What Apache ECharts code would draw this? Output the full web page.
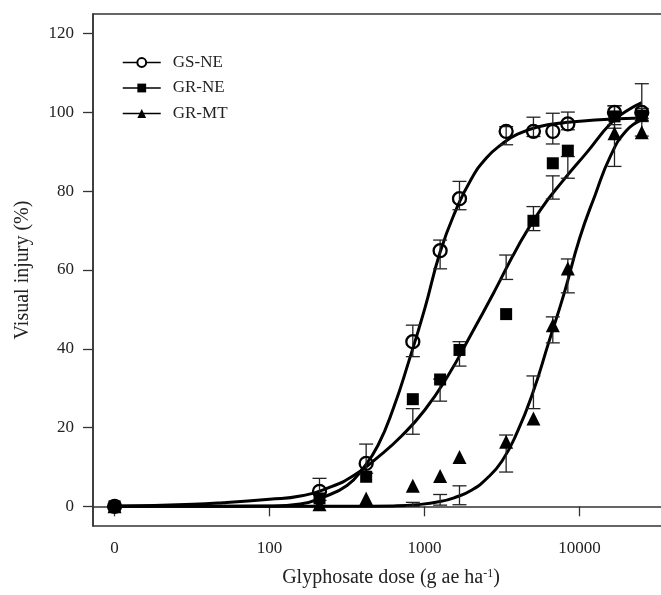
<!DOCTYPE html>
<html>
<head>
<meta charset="utf-8">
<script src="https://cdn.jsdelivr.net/npm/echarts@6/dist/echarts.min.js"></script>
<style>
html, body { margin: 0; padding: 0; background: #fff; }
#main { width: 661px; height: 595px; }
</style>
</head>
<body>
<div id="main"></div>
<script>
// doses (g ae ha-1); dose 0 is drawn at the "10" position of the log axis
var doses = [0, 210, 420, 840, 1260, 1680, 3360, 5040, 6720, 8400, 16800, 25200];
var gsNE = [0, 3.8, 10.9, 41.8, 64.9, 78.1, 95.2, 95.2, 95.2, 97.1, 100, 100];
var grNE = [0, 2, 7.5, 27.2, 32.2, 39.7, 48.8, 72.5, 87.1, 90.3, 99, 99.2];
var grMT = [0, 0.5, 2, 5.2, 7.7, 12.5, 16.4, 22.3, 46, 60.4, 94.7, 95];

// error bars [low, high], null where none is visible
var gsNEBar = [null, [1.5, 7.1], [8.4, 15.8], [38, 46], [60.3, 67.6], [75.3, 82.5], [91.8, 96.4], [93.9, 98.8], [92, 99.8], [95.6, 100.1], [98.5, 101.7], [98.5, 101]];
var grNEBar = [null, null, null, [18.3, 24.8], [26.7, 32.3], [35.6, 41.8], [57.6, 63.8], [70, 76.1], [78, 83.9], [83.3, 88.8], [96, 101.7], [97.7, 107.3]];
var grMTBar = [null, null, null, [0, 1], [0.3, 3], [0.4, 5.2], [8.7, 18.1], [24.8, 33.1], [41.5, 48.1], [54.2, 62.8], [86.3, 96.9], [94, 98]];

// fitted curves
var gsCurveDose = [10, 32, 100, 158, 224, 316, 398, 501, 631, 794, 1000, 1259, 1585, 1995, 2512, 3162, 3981, 5623, 7943, 12590, 25200];
var gsCurveVal = [0, 0, 0.1, 0.6, 2.4, 5.3, 9.5, 15.5, 25, 37, 50, 64.5, 75, 83, 88.5, 92, 94.5, 96.5, 97.4, 98.1, 98.6];
var grCurveDose = [10, 32, 50, 100, 158, 251, 355, 501, 708, 1000, 1413, 1995, 2818, 3981, 5623, 7943, 11220, 15850, 19950, 25200];
var grCurveVal = [0, 0.5, 0.9, 1.8, 2.6, 5, 8, 12.5, 17.8, 24.4, 33.1, 43.6, 54.5, 65.8, 75.4, 83, 90, 97.2, 100.3, 102.5];
var mtCurveDose = [10, 316, 631, 891, 1259, 1585, 1995, 2512, 3162, 3981, 5012, 6310, 7943, 10000, 12590, 15850, 19950, 25200];
var mtCurveVal = [0, 0, 0.1, 0.4, 1.2, 2.3, 4, 7, 11.5, 19, 29, 41.5, 54, 68, 79, 89, 95.3, 98.1];

var xTickPos = [1, 2, 3, 4];
var xTickLabels = ['0', '100', '1000', '10000'];
var yTicks = [0, 20, 40, 60, 80, 100, 120];

var font = 'Liberation Serif';

function pos(d) { return Math.log10(Math.max(d, 10)); }
function pairs(xs, ys) {
    return xs.map(function (d, i) { return [pos(d), ys[i]]; });
}
function barData(bars) {
    var out = [];
    bars.forEach(function (b, i) {
        if (b) out.push([pos(doses[i]), b[0], b[1]]);
    });
    return out;
}

function renderBar(params, api) {
    var x = api.value(0);
    var top = api.coord([x, api.value(2)]);
    var bot = api.coord([x, api.value(1)]);
    var w = 7;
    var style = { stroke: '#222', lineWidth: 1.3 };
    return {
        type: 'group',
        children: [
            { type: 'line', shape: { x1: top[0], y1: top[1], x2: bot[0], y2: bot[1] }, style: style },
            { type: 'line', shape: { x1: top[0] - w, y1: top[1], x2: top[0] + w, y2: top[1] }, style: style },
            { type: 'line', shape: { x1: bot[0] - w, y1: bot[1], x2: bot[0] + w, y2: bot[1] }, style: style }
        ]
    };
}

var groups = [
    { name: 'GS-NE', symbol: 'emptyCircle', pts: gsNE, bars: gsNEBar, cx: gsCurveDose, cy: gsCurveVal },
    { name: 'GR-NE', symbol: 'rect', pts: grNE, bars: grNEBar, cx: grCurveDose, cy: grCurveVal },
    { name: 'GR-MT', symbol: 'triangle', pts: grMT, bars: grMTBar, cx: mtCurveDose, cy: mtCurveVal }
];

var series = [];
groups.forEach(function (g) {
    series.push({
        name: g.name,
        type: 'line',
        data: pairs(g.cx, g.cy),
        symbol: g.symbol,
        showSymbol: false,
        smooth: 0.5,
        lineStyle: { color: '#000', width: 3 },
        itemStyle: { color: '#000' },
        silent: true,
        z: 2
    });
});
groups.forEach(function (g) {
    series.push({
        name: g.name,
        type: 'custom',
        renderItem: renderBar,
        encode: { x: 0, y: [1, 2] },
        data: barData(g.bars),
        silent: true,
        z: 3
    });
});
groups.forEach(function (g) {
    var isCircle = g.symbol === 'emptyCircle';
    series.push({
        name: g.name,
        type: 'scatter',
        data: pairs(doses, g.pts),
        symbol: isCircle ? 'circle' : g.symbol,
        symbolSize: isCircle ? 13 : (g.symbol === 'rect' ? 12 : 14),
        itemStyle: isCircle
            ? { color: 'rgba(0,0,0,0)', borderColor: '#000', borderWidth: 2.3, opacity: 1 }
            : { color: '#000', opacity: 1 },
        z: 4
    });
});

var chart = echarts.init(document.getElementById('main'));
chart.setOption({
    animation: false,
    backgroundColor: '#fff',
    grid: {
        left: 93, top: 14, right: -28, bottom: 69,
        outerBoundsMode: 'none',
        show: true, borderColor: '#333', borderWidth: 1.5
    },
    legend: {
        data: groups.map(function (g) { return g.name; }),
        orient: 'vertical',
        left: 117, top: 49,
        itemWidth: 38, itemHeight: 11, itemGap: 8.5,
        lineStyle: { width: 1.5 },
        textStyle: { fontFamily: font, fontSize: 17, color: '#222', padding: [0, 0, 0, 7] }
    },
    xAxis: {
        type: 'value',
        min: 0.861, max: 4.706,
        name: 'Glyphosate dose (g ae ha{sup|-1})',
        nameLocation: 'middle',
        nameGap: 42,
        nameTextStyle: {
            fontFamily: font, fontSize: 20, color: '#222',
            rich: { sup: { fontFamily: font, fontSize: 12, color: '#222', verticalAlign: 'top', lineHeight: 12 } }
        },
        axisLine: { lineStyle: { color: '#333', width: 1.5 } },
        axisTick: { customValues: xTickPos, length: 10, lineStyle: { color: '#333', width: 1.3 } },
        axisLabel: {
            customValues: xTickPos,
            margin: 14,
            fontFamily: font, fontSize: 17, color: '#222',
            formatter: function (v) { return xTickLabels[xTickPos.indexOf(Math.round(v))]; }
        },
        splitLine: { show: false }
    },
    yAxis: {
        type: 'value',
        min: -5, max: 125,
        name: 'Visual injury (%)',
        nameLocation: 'middle',
        nameGap: 60,
        nameTextStyle: { fontFamily: font, fontSize: 20, color: '#222' },
        axisLine: { lineStyle: { color: '#333', width: 1.5 } },
        axisTick: { customValues: yTicks, length: 10, lineStyle: { color: '#333', width: 1.3 } },
        axisLabel: {
            customValues: yTicks,
            margin: 19,
            fontFamily: font, fontSize: 17, color: '#222'
        },
        splitLine: { show: false }
    },
    series: series
});
</script>
</body>
</html>
